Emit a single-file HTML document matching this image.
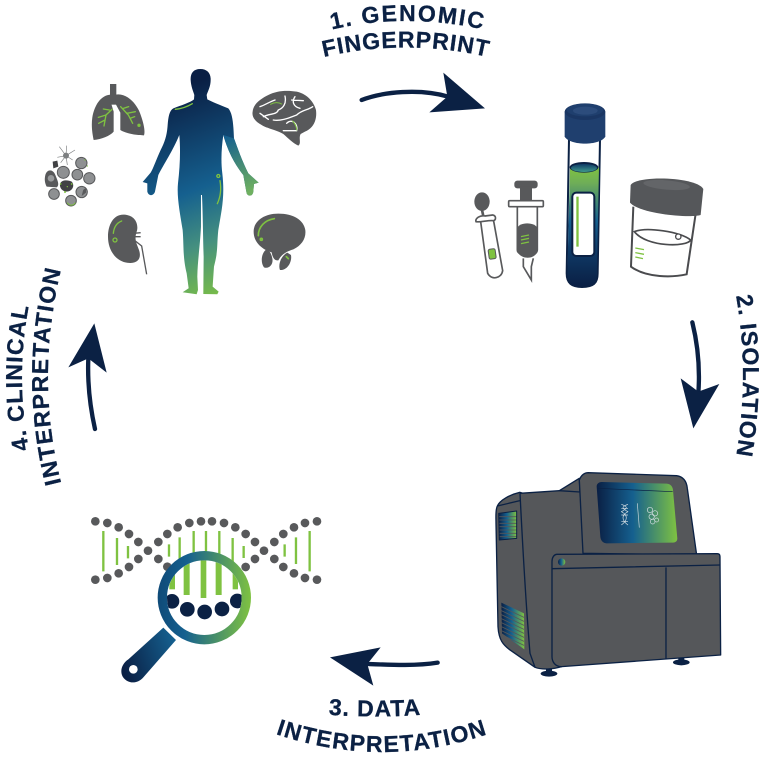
<!DOCTYPE html>
<html><head><meta charset="utf-8"><style>
html,body{margin:0;padding:0;background:#fff}
svg{display:block}
text{font-family:"Liberation Sans",sans-serif;font-weight:bold;fill:#0b2144;stroke:#0b2144;stroke-width:.3px;text-anchor:middle}
</style></head><body>
<svg width="767" height="764" viewBox="0 0 767 764" xmlns="http://www.w3.org/2000/svg">
<defs>
<linearGradient id="body" gradientUnits="userSpaceOnUse" x1="410" y1="100" x2="640" y2="700"><stop offset="0" stop-color="#0a1f44"/><stop offset=".47" stop-color="#15608f"/><stop offset=".72" stop-color="#45907f"/><stop offset="1" stop-color="#7fc241"/></linearGradient>
<linearGradient id="farm" gradientUnits="userSpaceOnUse" x1="590" y1="230" x2="670" y2="390"><stop offset="0" stop-color="#15608f"/><stop offset="1" stop-color="#6fb060"/></linearGradient>
<linearGradient id="h" x1="0" x2="1" y1="0" y2="0"><stop offset="0" stop-color="#0a1f44"/><stop offset=".45" stop-color="#15608f"/><stop offset="1" stop-color="#7fc241"/></linearGradient>
<linearGradient id="ring" gradientUnits="userSpaceOnUse" x1="233" y1="290" x2="513" y2="300"><stop offset="0" stop-color="#0f4a78"/><stop offset=".3" stop-color="#15608f"/><stop offset="1" stop-color="#7fc241"/></linearGradient>
<linearGradient id="handle" gradientUnits="userSpaceOnUse" x1="125" y1="500" x2="290" y2="440"><stop offset="0" stop-color="#0a1f44"/><stop offset="1" stop-color="#15608f"/></linearGradient>
<linearGradient id="gel" x1="0" x2="0" y1="0" y2="1"><stop offset="0" stop-color="#7fc241"/><stop offset=".13" stop-color="#6fae57"/><stop offset=".45" stop-color="#15608f"/><stop offset=".7" stop-color="#0f3a66"/><stop offset="1" stop-color="#0a1f44"/></linearGradient>
<linearGradient id="teal" x1="0" x2="0" y1="0" y2="1"><stop offset="0" stop-color="#0f3a66"/><stop offset="1" stop-color="#3f9a8c"/></linearGradient>
<clipPath id="lens"><circle cx="373" cy="293" r="112"/></clipPath>
<path id="t1" d="M330 30 Q405 12 486 30"/>
<path id="t1b" d="M320 58 Q405 37 492 58"/>
<path id="t2" d="M735 290 Q751 375 735 462"/>
<path id="t3" d="M320 714 Q375 719 430 714"/>
<path id="t3b" d="M270 732 Q382 772 494 732"/>
<path id="t4" d="M30 455 Q14 378 30 300"/>
<path id="t4b" d="M63 490 Q33 378 63 262"/>
</defs>

<!-- labels -->
<text font-size="23" letter-spacing="1.8"><textPath href="#t1" startOffset="50%">1. GENOMIC</textPath></text>
<text font-size="23" letter-spacing=".9"><textPath href="#t1b" startOffset="50%">FINGERPRINT</textPath></text>
<text font-size="23" letter-spacing="1"><textPath href="#t2" startOffset="50%">2. ISOLATION</textPath></text>
<text font-size="23" letter-spacing="1"><textPath href="#t3" startOffset="50%">3. DATA</textPath></text>
<text font-size="23" letter-spacing="1.3"><textPath href="#t3b" startOffset="50%">INTERPRETATION</textPath></text>
<text font-size="23" letter-spacing="1.1"><textPath href="#t4" startOffset="50%">4. CLINICAL</textPath></text>
<text font-size="23" letter-spacing="1.3"><textPath href="#t4b" startOffset="50%">INTERPRETATION</textPath></text>

<!-- arrows -->
<g transform="translate(310,0) scale(.3333)"><path d="M155 300C220 275 330 265 415 290" fill="none" stroke="#0b2144" stroke-width="13" stroke-linecap="round"/><path d="M400 218L525 325L358 337L412 290Z" fill="#0b2144"/></g>
<g transform="translate(670,290) scale(.3333)"><path d="M67 97C85 170 90 240 85 310" fill="none" stroke="#0b2144" stroke-width="13" stroke-linecap="round"/><path d="M32 265L85 305L148 282L70 415Z" fill="#0b2144"/></g>
<g transform="translate(260,640) scale(.3333)"><path d="M533 68C470 78 400 75 325 72" fill="none" stroke="#0b2144" stroke-width="13" stroke-linecap="round"/><path d="M362 22L322 72L340 137L210 52Z" fill="#0b2144"/></g>
<g transform="translate(0,260) scale(.3333)"><path d="M285 507C270 440 262 370 265 295" fill="none" stroke="#0b2144" stroke-width="13" stroke-linecap="round"/><path d="M283 190L320 338L265 295L205 322Z" fill="#0b2144"/></g>

<!-- human and organs -->
<g transform="translate(30,60) scale(.3333)">
<path fill="url(#body)" d="M511 27C490 27 481 40 482 60C483 80 490 95 493 105L492 118C480 128 455 135 430 145C418 152 415 170 413 195C411 225 405 245 392 270C380 295 370 325 362 338L338 366L352 370L352 395C355 408 370 410 375 395L385 345C400 315 430 270 448 225C452 270 450 320 444 370C440 410 450 460 458 510C462 560 458 590 470 640L476 685L458 697L500 703L504 690L502 650C503 600 510 560 513 500L513 405L516 405C519 470 519 540 521 590L520 702L562 703L566 695L548 680L552 620C565 570 560 560 565 510C575 450 585 410 577 340C572 300 575 260 580 225C595 280 620 320 640 345L650 400C655 410 668 410 670 395L672 372L686 368L655 340C635 300 625 270 612 235C610 190 608 160 595 145C570 135 545 125 532 118L530 105C535 90 543 78 542 55C541 38 530 27 511 27Z"/>
<path fill="url(#farm)" d="M580 225C595 280 620 320 640 345L650 400C655 410 668 410 670 395L672 372L686 368L655 340C635 300 625 270 612 235Z"/>
<g fill="none" stroke="#7fc241" stroke-width="4" stroke-linecap="round">
<path d="M436 148C455 146 472 140 487 131"/><circle cx="565" cy="348" r="4.5"/><path d="M570 362C574 385 572 410 562 431"/>
</g>
<!-- lungs -->
<g fill="#58595b"><rect x="240" y="72" width="19" height="62"/>
<path d="M242 104C212 106 194 135 187 172C183 200 188 225 191 240C215 238 240 228 251 215L251 155L244 132Z"/>
<path d="M256 104C285 98 312 122 327 152C342 188 346 215 342 226C325 226 290 222 271 210L271 158L258 134Z"/></g>
<g fill="none" stroke="#7fc241" stroke-width="4" stroke-linecap="round"><path d="M246 148L228 165L222 198M228 165L205 172M225 180L206 190M238 150L220 147"/><path d="M272 140L295 165L308 190M290 160L316 155M300 175L314 170M280 145L296 140"/></g>
<circle cx="327" cy="196" r="5" fill="#7fc241"/>
<!-- brain -->
<path fill="#58595b" d="M668 155C670 130 695 115 715 105C740 92 770 90 800 95C825 100 850 120 858 150C862 180 850 205 825 215L812 222C805 235 815 250 805 257C790 250 775 235 760 222C740 210 710 205 695 195C675 185 665 170 668 155Z"/>
<g fill="none" stroke="#fff" stroke-width="4" stroke-linecap="round"><path d="M690 140C705 135 720 125 735 120M700 170C720 160 740 165 745 150C760 145 770 130 765 108M795 110C785 125 790 140 810 145M730 180C755 185 785 170 800 165C815 150 835 150 848 140M690 160L715 178M770 190C785 175 805 190 800 212L760 212M785 120L820 122"/></g>
<g fill="none" stroke="#7fc241" stroke-width="3" stroke-linecap="round"><path d="M722 133C732 127 745 126 755 132"/><path d="M788 183C796 192 800 200 800 210"/></g>
<!-- cells -->
<g fill="#8e9092" stroke="#58595b" stroke-width="3">
<circle cx="154" cy="309" r="17"/><circle cx="100" cy="337" r="18"/><circle cx="142" cy="344" r="16"/><circle cx="178" cy="355" r="17"/><circle cx="72" cy="402" r="16"/><circle cx="155" cy="396" r="17"/><circle cx="123" cy="422" r="16"/></g>
<path d="M46 345C52 325 70 328 76 345C82 360 90 375 80 382L50 380C44 368 43 358 46 345Z" fill="#58595b"/>
<circle cx="63" cy="355" r="10" fill="#97999b"/>
<path d="M90 372C95 358 115 360 125 365C135 375 128 392 115 394C100 398 88 385 90 372Z" fill="#414244"/><circle cx="108" cy="287" r="9" fill="#7d7f81"/><path d="M68 305L82 302L85 320L70 325Z" fill="#414244"/>
<g stroke="#7d7f81" stroke-width="2" fill="none"><path d="M108 287L88 260M108 287L135 270M108 287L82 292M108 287L128 300M108 287L112 315M108 287L110 257M108 287L92 308"/></g>
<path d="M158 396A12 12 0 0 1 168 385L168 398L155 408Z" fill="#58595b"/>
<path d="M112 428C118 438 130 438 136 428" fill="none" stroke="#7fc241" stroke-width="3"/>
<g fill="#7fc241"><circle cx="105" cy="396" r="3"/><circle cx="125" cy="372" r="2.5"/><circle cx="92" cy="372" r="2.5"/><circle cx="112" cy="380" r="2"/><circle cx="165" cy="300" r="2"/><circle cx="172" cy="318" r="2"/></g>
<!-- kidney -->
<path fill="#58595b" d="M280 464C250 464 234 495 234 530C234 578 265 610 302 609C328 608 334 590 327 570C320 550 312 540 320 515C327 495 317 464 280 464Z"/>
<g fill="none" stroke="#58595b" stroke-width="4"><path d="M312 520L332 518M312 530L332 530M316 543L335 558L350 643"/></g>
<g fill="none" stroke="#7fc241" stroke-width="4" stroke-linecap="round"><path d="M250 520C252 500 262 488 275 483"/><circle cx="255" cy="540" r="6"/></g>
<!-- bladder -->
<g fill="#58595b"><path d="M745 461C700 461 671 485 671 515C671 550 700 570 725 577C728 595 735 603 745 601C752 590 758 578 790 568C815 556 829 535 826 510C821 480 790 461 745 461Z"/><path d="M707 570C693 582 692 610 702 622C718 628 731 612 727 595C724 580 717 568 707 570Z"/><path d="M772 578C752 588 744 615 750 630C772 632 787 605 783 585Z"/></g>
<g fill="none" stroke="#7fc241" stroke-width="5" stroke-linecap="round"><path d="M685 527C685 500 705 480 733 476"/><circle cx="694" cy="538" r="3"/><path d="M769 590L775 596"/></g>
</g>

<!-- sample tubes -->
<g transform="translate(460,90) scale(.3333)">
<path d="M327 150L320 550C320 580 335 591 366 591C400 591 413 580 413 550L420 150Z" fill="#fff" stroke="#0b2144" stroke-width="6"/>
<path d="M330 232L322 550C322 578 335 590 366 590C398 590 411 578 411 550L417 232Z" fill="url(#gel)"/>
<ellipse cx="372" cy="232" rx="43" ry="16" fill="#0b2144"/><ellipse cx="372" cy="234" rx="39" ry="12" fill="url(#teal)"/>
<rect x="337" y="308" width="66" height="190" rx="12" fill="#fff" stroke="#0b2144" stroke-width="6"/>
<rect x="349" y="320" width="7" height="150" fill="#7fc241"/>
<path d="M314 65L314 140C330 168 420 168 436 140L436 65Z" fill="#1f3f6e"/>
<ellipse cx="375" cy="65" rx="61" ry="25" fill="#1a3663"/>
<ellipse cx="375" cy="60" rx="55" ry="19" fill="#1f3f6e"/><ellipse cx="376" cy="62" rx="37" ry="12" fill="#2c4c7c"/>
<!-- swab -->
<ellipse cx="66" cy="335" rx="23" ry="28" fill="#58595b"/>
<path d="M66 360L72 388" stroke="#58595b" stroke-width="8"/>
<g fill="#fff" stroke="#58595b" stroke-width="5"><path d="M62 395L83 550C95 572 125 565 128 542L100 388"/><path d="M48 395C45 385 60 375 75 378L98 375C110 378 108 390 100 392C85 390 60 398 48 395Z"/></g>
<rect x="86" y="477" width="21" height="30" rx="5" transform="rotate(-8 96 492)" fill="#7fc241" stroke="#58595b" stroke-width="3"/>
<!-- syringe -->
<rect x="163" y="272" width="70" height="23" rx="9" fill="#58595b"/><rect x="180" y="290" width="36" height="42" fill="#58595b"/>
<path d="M172 350L172 480C172 500 230 505 232 480L232 350" fill="#fff" stroke="#58595b" stroke-width="5"/>
<path d="M172 415C175 395 228 395 232 415L232 480C230 512 175 510 172 480Z" fill="#58595b"/>
<rect x="146" y="332" width="104" height="18" rx="3" fill="#fff" stroke="#58595b" stroke-width="5"/>
<path d="M190 505L190 530L214 570L214 530L220 505" fill="#fff" stroke="#58595b" stroke-width="5"/>
<g stroke="#7fc241" stroke-width="4"><path d="M183 440L207 435M183 450L207 445M183 461L207 456"/></g>
<!-- cup -->
<path d="M520 350L513 530C560 565 640 562 680 553L708 365" fill="#fff" stroke="#4a4b4e" stroke-width="6"/>
<path d="M523 425C560 410 660 425 692 450C682 472 560 472 523 425Z" fill="#fff" stroke="#4a4b4e" stroke-width="5"/>
<circle cx="655" cy="440" r="8" fill="#fff" stroke="#4a4b4e" stroke-width="4"/>
<g stroke="#7fc241" stroke-width="4"><path d="M526 474L552 479M526 488L552 493M526 501L549 506"/></g>
<path d="M512 285C530 255 710 260 730 297L722 375C690 385 540 372 510 338Z" fill="#55575a"/>
<ellipse cx="620" cy="285" rx="70" ry="14" transform="rotate(5 620 285)" fill="#636568"/>
</g>

<!-- sequencer -->
<g transform="translate(480,460) scale(.3333)" stroke-linejoin="round">
<ellipse cx="207" cy="641" rx="25" ry="9" fill="#0b2144"/><ellipse cx="604" cy="607" rx="25" ry="9" fill="#0b2144"/>
<rect x="198" y="622" width="18" height="15" fill="#0b2144"/><rect x="595" y="590" width="18" height="14" fill="#0b2144"/>
<path d="M120 97C90 104 60 120 52 138C46 150 48 170 48 190L54 500C56 540 70 555 90 570L165 622C185 630 220 628 245 620L216 300L130 100Z" fill="#55575a" stroke="#0b2144" stroke-width="4"/>
<path d="M120 100L238 92L298 92L312 280L216 300L216 600L190 620L160 610L150 580C135 400 125 200 120 100Z" fill="#55575a"/>
<path d="M120 100C125 200 135 400 150 580L165 622M120 100L238 92" fill="none" stroke="#0b2144" stroke-width="4"/>
<g fill="#55575a" stroke="#0b2144" stroke-width="4">
<path d="M238 92L298 55L300 96Z"/>
<path d="M298 60C305 42 315 38 325 38L590 47C610 50 620 65 622 85L650 285L309 280Z"/>
<path d="M230 283L712 281Q720 281 720 290L722 585L245 620C225 620 216 605 216 590L216 305C216 292 222 284 230 283Z"/>
</g>
<g fill="none" stroke="#0b2144" stroke-width="4"><path d="M216 326L720 315M558 322L558 598M52 138L120 122"/></g>
<path d="M350 80C350 70 358 66 365 66L560 71C572 72 578 80 579 90L592 235C592 245 585 248 575 248L380 250C368 250 362 240 361 230Z" fill="url(#h)"/>
<path d="M352 85L578 95" stroke="#0b2144" stroke-width="2" fill="none"/>
<path d="M472 130L478 203" stroke="#c9d6dd" stroke-width="2"/>
<g fill="none" stroke="#d6dfe4" stroke-width="2"><path d="M424 133C444 140 444 145 424 155C444 165 444 180 424 195M444 133C424 140 424 145 444 155C424 165 424 180 444 195M424 145H444M424 165H444M424 185H444"/>
<circle cx="510" cy="150" r="8"/><circle cx="525" cy="160" r="8"/><circle cx="515" cy="170" r="8"/><circle cx="530" cy="180" r="6"/><circle cx="518" cy="185" r="7"/></g>
<circle cx="245" cy="306" r="11" fill="url(#h)"/>
<path d="M56 160L110 153L110 235L58 240Z" fill="url(#h)"/>
<path d="M64 428L132 460L133 568L66 520Z" fill="url(#h)"/>
<g stroke="#55575a" stroke-width="2.5"><path d="M56 170H110M56 180H110M56 190H110M56 200H110M56 210H110M56 220H110M56 230H110"/><path d="M64 440L132 472M64 452L132 484M64 464L132 496M64 476L132 508M64 488L132 520M64 500L132 532M64 512L132 544M64 524L132 556"/></g>
<path d="M56 160L110 153L110 235L58 240Z" fill="none" stroke="#0b2144" stroke-width="3"/>
</g>

<!-- dna + magnifier -->
<g transform="translate(80,500) scale(.3333)">
<g stroke="#7fc241" stroke-width="7"><path d="M70 93V214M111 114V195M144 138V175M267 133V170M299 112V190M341 93V190M378 93V190M418 93V190M458 114V190M491 138V174M614 133V170M648 112V192M689 93V214"/></g>
<g fill="#58595b">
<circle cx="46" cy="64" r="13"/><circle cx="82" cy="69" r="13"/><circle cx="116" cy="82" r="13"/><circle cx="147" cy="102" r="13"/><circle cx="175" cy="126" r="13"/><circle cx="204" cy="152" r="13"/><circle cx="235" cy="177" r="13"/><circle cx="262" cy="200" r="13"/>
<circle cx="46" cy="239" r="13"/><circle cx="82" cy="234" r="13"/><circle cx="116" cy="220" r="13"/><circle cx="147" cy="201" r="13"/><circle cx="175" cy="177" r="13"/><circle cx="235" cy="126" r="13"/><circle cx="262" cy="102" r="13"/><circle cx="293" cy="82" r="13"/><circle cx="328" cy="69" r="13"/><circle cx="363" cy="64" r="13"/><circle cx="396" cy="64" r="13"/><circle cx="432" cy="69" r="13"/><circle cx="466" cy="82" r="13"/><circle cx="497" cy="102" r="13"/><circle cx="525" cy="126" r="13"/><circle cx="552" cy="152" r="13"/><circle cx="583" cy="177" r="13"/><circle cx="610" cy="201" r="13"/><circle cx="642" cy="220" r="13"/><circle cx="675" cy="234" r="13"/><circle cx="711" cy="239" r="13"/>
<circle cx="497" cy="201" r="13"/><circle cx="525" cy="177" r="13"/><circle cx="583" cy="126" r="13"/><circle cx="610" cy="102" r="13"/><circle cx="642" cy="82" r="13"/><circle cx="675" cy="69" r="13"/><circle cx="711" cy="64" r="13"/>
</g>
<circle cx="373" cy="293" r="125" fill="#fff"/>
<g clip-path="url(#lens)"><g fill="#7fc241"><rect x="268" y="190" width="17" height="78"/><rect x="311" y="170" width="18" height="115"/><rect x="362" y="170" width="17" height="124"/><rect x="407" y="170" width="18" height="115"/><rect x="458" y="190" width="16" height="78"/></g>
<g fill="#0b2144"><circle cx="276" cy="304" r="22"/><circle cx="322" cy="328" r="22"/><circle cx="374" cy="336" r="22"/><circle cx="426" cy="327" r="22"/><circle cx="472" cy="303" r="22"/></g></g>
<path d="M250 383L288 420L190 532C170 555 140 550 128 530C118 510 128 490 145 478Z" fill="url(#handle)"/>
<circle cx="160" cy="508" r="13" fill="#fff"/>
<circle cx="373" cy="293" r="126" fill="none" stroke="url(#ring)" stroke-width="28"/>
</g>
</svg>
</body></html>
